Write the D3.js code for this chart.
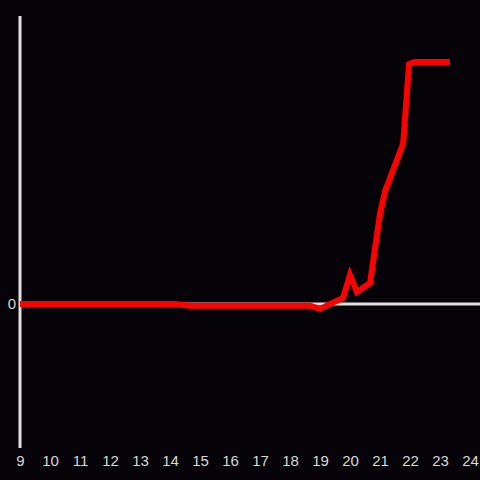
<!DOCTYPE html>
<html><head><meta charset="utf-8">
<script src="https://cdn.jsdelivr.net/npm/d3@7"></script>
<style>html,body{margin:0;padding:0;background:#050307;}svg{display:block;}</style>
</head><body>
<script>
const hours = [9, 14.17, 14.67, 18.67, 19.0, 19.77, 20.0, 20.23, 20.67, 21.0, 21.17, 21.77, 21.97, 22.17, 23.33];
const values = [0, 0, -0.6, -0.6, -1.7, 2.1, 10.1, 4.2, 7.3, 31.3, 39.2, 55.6, 83.3, 84.0, 84.0];
const xTicks = [9,10,11,12,13,14,15,16,17,18,19,20,21,22,23,24];
const yTicks = [0];

const W = 480, H = 480;
const svg = d3.select("body").append("svg").attr("width", W).attr("height", H)
  .style("background", "#050307");
const x = d3.scaleLinear().domain([9, 24]).range([20, 470]);
const y = d3.scaleLinear().domain([-50, 100]).range([448, 16]);

svg.append("line").attr("x1", x(9)).attr("x2", x(9)).attr("y1", y(100)).attr("y2", y(-50))
  .attr("stroke", "#e0e0e0").attr("stroke-width", 3);
svg.append("line").attr("x1", x(9)).attr("x2", W).attr("y1", y(0)).attr("y2", y(0))
  .attr("stroke", "#e0e0e0").attr("stroke-width", 3);

const xAxis = d3.axisBottom(x).tickValues(xTicks).tickSize(0).tickFormat(d3.format("d"));
const gx = svg.append("g").attr("transform", `translate(0,${y(-50)})`).call(xAxis);
gx.select(".domain").remove();
gx.selectAll("text").attr("fill", "#d8d8d8").attr("font-size", 15)
  .attr("font-family", "Liberation Sans, Arial, sans-serif").attr("dy", "0.35em").attr("y", 13);

const yAxis = d3.axisLeft(y).tickValues(yTicks).tickSize(0).tickFormat(d3.format("d"));
const gy = svg.append("g").attr("transform", `translate(${x(9)},0)`).call(yAxis);
gy.select(".domain").remove();
gy.selectAll("text").attr("fill", "#d8d8d8").attr("font-size", 15)
  .attr("font-family", "Liberation Sans, Arial, sans-serif").attr("x", -4);

const data = hours.map((h, i) => [h, values[i]]);
svg.append("path").datum(data)
  .attr("d", d3.line().x(d => x(d[0])).y(d => y(d[1])))
  .attr("fill", "none").attr("stroke", "#ff0000").attr("stroke-width", 6);
</script>
</body></html>
